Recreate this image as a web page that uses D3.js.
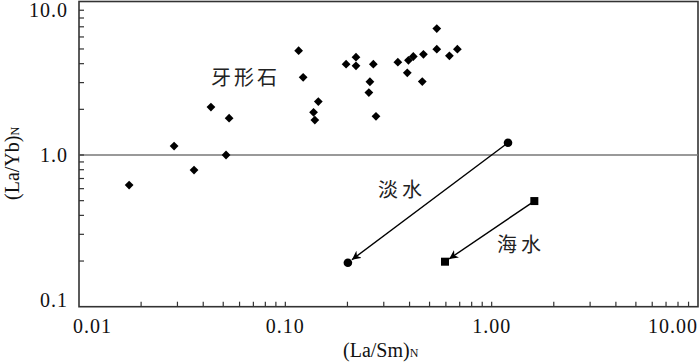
<!DOCTYPE html>
<html lang="zh">
<head>
    <meta charset="UTF-8">
    <title>(La/Sm)N - (La/Yb)N</title>
    <style>
        body {
            margin: 0;
            background: #fff;
        }
        svg text {
            font-family: "Liberation Serif", "DejaVu Serif", serif;
            fill: #111;
        }
        svg text.cn {
            font-family: "Noto Sans CJK SC", sans-serif;
            fill: #222;
        }
    </style>
</head>
<body>
    <div id="chart"></div>
    <script src="https://d3js.org/d3.v7.min.js"></script>
    <script>
        // 牙形石 (La/Sm)N, (La/Yb)N
        const conoX = [0.0175, 0.0289, 0.0361, 0.0436, 0.0534, 0.0516, 0.116, 0.122, 0.1445, 0.137, 0.139,
                       0.197, 0.220, 0.220, 0.267, 0.257, 0.254, 0.275, 0.351, 0.395, 0.417, 0.390,
                       0.467, 0.461, 0.542, 0.542, 0.624, 0.682];
        const conoY = [0.634, 1.146, 0.796, 2.07, 1.75, 1.0, 4.87, 3.25, 2.25, 1.91, 1.70,
                       3.97, 4.41, 3.87, 3.97, 3.04, 2.58, 1.80, 4.09, 4.21, 4.46, 3.48,
                       4.61, 3.05, 6.82, 4.98, 4.51, 4.98];
        // 淡水: start -> end
        const freshX = [1.20, 0.201];
        const freshY = [1.205, 0.195];
        // 海水: start -> end
        const seaX = [1.61, 0.594];
        const seaY = [0.497, 0.198];

        const xMajor = [0.01, 0.1, 1, 10];
        const xMajorLabels = ["0.01", "0.10", "1.00", "10.00"];
        const yMajor = [0.1, 1, 10];
        const yMajorLabels = ["0.1", "1.0", "10.0"];

        const width = 700, height = 363;
        const svg = d3.select("#chart").append("svg")
            .attr("width", width)
            .attr("height", height);

        const x = d3.scaleLog().domain([0.01, 10]).range([79, 698]);
        const y = d3.scaleLog().domain([0.1, 10]).range([306.7, 3.3]);

        const minorX = [];
        [0.01, 0.1, 1].forEach(d => { for (let k = 2; k <= 9; k++) minorX.push(d * k); });
        const minorY = [];
        [0.1, 1].forEach(d => { for (let k = 2; k <= 9; k++) minorY.push(d * k); });

        // frame
        svg.append("rect")
            .attr("x", x(0.01)).attr("y", 1.5)
            .attr("width", x(10) - x(0.01)).attr("height", y(0.1) - 1.5)
            .attr("fill", "none").attr("stroke", "#333").attr("stroke-width", 1.6);

        // reference line at 1.0
        svg.append("line")
            .attr("x1", x(0.01)).attr("x2", x(10))
            .attr("y1", y(1)).attr("y2", y(1))
            .attr("stroke", "#777").attr("stroke-width", 1.5);

        // ticks
        svg.selectAll(".xt").data(minorX.concat([0.1, 1])).enter().append("line")
            .attr("x1", d => x(d)).attr("x2", d => x(d))
            .attr("y1", y(0.1)).attr("y2", y(0.1) - 5)
            .attr("stroke", "#333").attr("stroke-width", 1.2);
        svg.selectAll(".yt").data(minorY.concat([1])).enter().append("line")
            .attr("x1", x(0.01)).attr("x2", x(0.01) + 5)
            .attr("y1", d => y(d)).attr("y2", d => y(d))
            .attr("stroke", "#333").attr("stroke-width", 1.2);

        // tick labels
        svg.selectAll(".xl").data(xMajor).enter().append("text")
            .attr("x", (d, i) => x(d) + (i === 0 ? -6 : 0))
            .attr("y", 333)
            .attr("text-anchor", (d, i) => i === 0 ? "start" : (i === 3 ? "end" : "middle"))
            .attr("font-size", 20)
            .attr("letter-spacing", 1)
            .text((d, i) => xMajorLabels[i]);
        svg.selectAll(".yl").data(yMajor).enter().append("text")
            .attr("x", 68)
            .attr("y", (d, i) => y(d) + (i === 0 ? 0 : i === 2 ? 14 : 7))
            .attr("text-anchor", "end")
            .attr("font-size", 20)
            .attr("letter-spacing", 1)
            .text((d, i) => yMajorLabels[i]);

        // axis titles
        const xt = svg.append("text")
            .attr("x", 343).attr("y", 357)
            .attr("font-size", 20);
        xt.append("tspan").text("(La/Sm)");
        xt.append("tspan").attr("font-size", 12).text("N");

        const yt = svg.append("text")
            .attr("transform", "translate(19,200) rotate(-90)")
            .attr("font-size", 20);
        yt.append("tspan").text("(La/Yb)");
        yt.append("tspan").attr("font-size", 12).text("N");

        // arrows
        svg.append("defs").append("marker")
            .attr("id", "arrow")
            .attr("viewBox", "0 0 10 10")
            .attr("refX", 10).attr("refY", 5)
            .attr("markerWidth", 9).attr("markerHeight", 9)
            .attr("markerUnits", "userSpaceOnUse")
            .attr("orient", "auto")
            .append("path")
            .attr("d", "M0,0 L10,5 L0,10 L3,5 Z")
            .attr("fill", "#000");

        const drawArrow = (xs, ys) => {
            const x1 = x(xs[0]), y1 = y(ys[0]), x2 = x(xs[1]), y2 = y(ys[1]);
            const len = Math.hypot(x2 - x1, y2 - y1);
            const sh = 5;
            svg.append("line")
                .attr("x1", x1).attr("y1", y1)
                .attr("x2", x2 - (x2 - x1) / len * sh)
                .attr("y2", y2 - (y2 - y1) / len * sh)
                .attr("stroke", "#000").attr("stroke-width", 1.4)
                .attr("marker-end", "url(#arrow)");
        };
        drawArrow(freshX, freshY);
        drawArrow(seaX, seaY);

        // conodont diamonds
        svg.selectAll(".cono").data(conoX).enter().append("rect")
            .attr("x", -3.1).attr("y", -3.1)
            .attr("width", 6.2).attr("height", 6.2)
            .attr("transform", (d, i) => `translate(${x(d)},${y(conoY[i])}) rotate(45)`)
            .attr("fill", "#000");

        // fresh water dots
        svg.selectAll(".fresh").data(freshX).enter().append("circle")
            .attr("cx", d => x(d))
            .attr("cy", (d, i) => y(freshY[i]))
            .attr("r", 4.3)
            .attr("fill", "#000");

        // sea water squares
        svg.selectAll(".sea").data(seaX).enter().append("rect")
            .attr("x", d => x(d) - 4)
            .attr("y", (d, i) => y(seaY[i]) - 4)
            .attr("width", 8).attr("height", 8)
            .attr("fill", "#000");

        // labels
        svg.append("text").attr("class", "cn")
            .attr("x", 211).attr("y", 85)
            .attr("font-size", 20).attr("letter-spacing", 3)
            .text("牙形石");
        svg.append("text").attr("class", "cn")
            .attr("x", 378).attr("y", 197)
            .attr("font-size", 20).attr("letter-spacing", 4)
            .text("淡水");
        svg.append("text").attr("class", "cn")
            .attr("x", 497).attr("y", 252)
            .attr("font-size", 20).attr("letter-spacing", 4)
            .text("海水");
    </script>
</body>
</html>
